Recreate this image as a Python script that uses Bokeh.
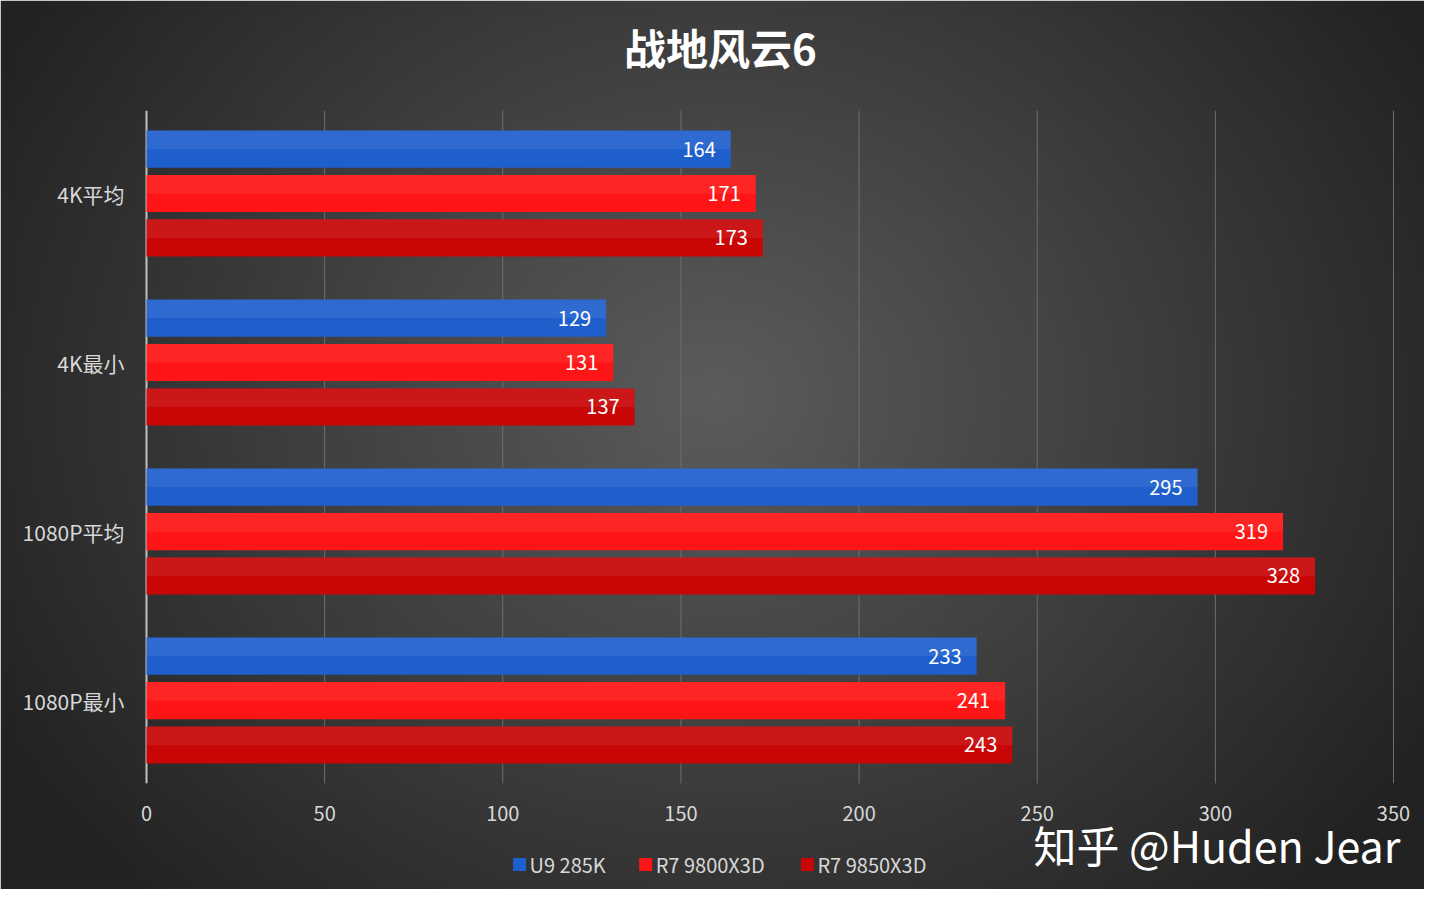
import numpy as np
from bokeh.plotting import figure
from bokeh.models import ColumnDataSource, Label, Range1d
from bokeh.core.properties import value
from bokeh.embed import file_html
from bokeh.resources import INLINE

categories = ["4K平均", "4K最小", "1080P平均", "1080P最小"]
series = ["U9 285K", "R7 9800X3D", "R7 9850X3D"]
u9 = [164, 129, 295, 233]
r7_9800 = [171, 131, 319, 241]
r7_9850 = [173, 137, 328, 243]
colors = ["#1f5fcc", "#ff1515", "#c80606"]
x_ticks = [0, 50, 100, 150, 200, 250, 300, 350]

FONT = "Noto Sans CJK SC"
F = value(FONT)
W, H = 1424, 889
X0, X1, Y0, Y1 = -40.98, 358.7, -1.118, 4.142
p = figure(width=W, height=H, output_backend="svg", toolbar_location=None,
           x_range=Range1d(X0, X1), y_range=Range1d(Y0, Y1), min_border=0)
p.axis.visible = False
p.grid.visible = False
p.outline_line_color = None
p.border_fill_color = "#333333"

ny, nx = 120, 190
yy, xx = np.mgrid[0:ny, 0:nx]
d = np.sqrt(((xx - nx * 0.5) / (nx * 0.55)) ** 2 + ((yy - ny * 0.55) / (ny * 0.75)) ** 2)
g = np.clip(92 - 55 * d, 34, 92).astype(np.uint32)
img = (255 << 24) | (g << 16) | (g << 8) | g
p.image_rgba(image=[img], x=X0, y=Y0, dw=X1 - X0, dh=Y1 - Y0)

p.segment(x0=x_ticks[1:], x1=x_ticks[1:], y0=-0.49, y1=3.49, line_color="#6e6e6e", line_width=1)
p.segment(x0=[0], x1=[0], y0=[-0.49], y1=[3.49], line_color="#c0c0c0", line_width=2)
p.text(x=x_ticks, y=[-0.49] * len(x_ticks), text=[str(t) for t in x_ticks], y_offset=30,
       text_align="center", text_baseline="middle", text_color="#d8d8d8",
       text_font_size="20px", text_font=F)

centers = [3 - i for i in range(len(categories))]
p.text(x=[0] * 4, y=centers, text=categories, x_offset=-22, text_align="right",
       text_baseline="middle", text_color="#d8d8d8", text_font_size="21px", text_font=F)

offs = [0.263, 0.0, -0.263]
for vals, off, col in zip([u9, r7_9800, r7_9850], offs, colors):
    src = ColumnDataSource(dict(y=[c + off for c in centers], yt=[c + off + 0.055 for c in centers],
                                v=vals, t=[str(v) for v in vals]))
    p.hbar(y="y", right="v", left=0, height=0.22, source=src, fill_color=col, line_color=None)
    p.hbar(y="yt", right="v", left=0, height=0.11, source=src, fill_color="white",
           fill_alpha=0.07, line_color=None)
    p.text(x="v", y="y", text="t", source=src, x_offset=-15, text_align="right",
           text_baseline="middle", text_color="white", text_font_size="20px", text_font=F)

lx = [104.7, 140.1, 185.5]
p.rect(x=lx, y=[-0.97] * 3, width=13, height=13, width_units="screen", height_units="screen",
       fill_color=colors, line_color=None)
p.text(x=lx, y=[-0.97] * 3, text=series, x_offset=10, text_baseline="middle",
       text_color="#d8d8d8", text_font_size="20px", text_font=F)

p.add_layout(Label(x=720, y=843, x_units="screen", y_units="screen", text="战地风云6",
                   text_align="center", text_baseline="middle", text_color="white",
                   text_font_size="42px", text_font_style="bold", text_font=FONT))
p.add_layout(Label(x=1400, y=46, x_units="screen", y_units="screen", text="知乎 @Huden Jear",
                   text_align="right", text_baseline="middle", text_color="white",
                   text_font_size="43px", text_font=FONT))

open("out.html", "w").write(file_html(p, INLINE))
